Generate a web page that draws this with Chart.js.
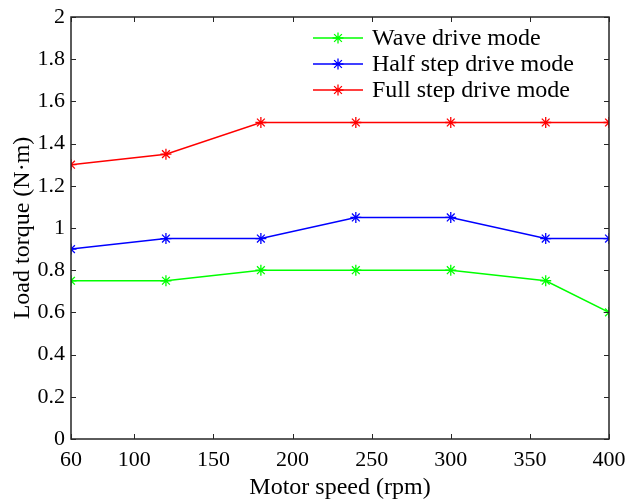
<!DOCTYPE html>
<html>
<head>
<meta charset="utf-8">
<script src="https://cdn.jsdelivr.net/npm/chart.js@4"></script>
<style>
html,body{margin:0;padding:0;background:#fff;}
#wrap{width:627px;height:502px;}
</style>
</head>
<body>
<div id="wrap"><canvas id="c" width="627" height="502"></canvas></div>
<script>
const speeds = [60, 120, 180, 240, 300, 360, 400];
const waveDrive = [0.75, 0.75, 0.8, 0.8, 0.8, 0.75, 0.6];
const halfStep = [0.9, 0.95, 0.95, 1.05, 1.05, 0.95, 0.95];
const fullStep = [1.3, 1.35, 1.5, 1.5, 1.5, 1.5, 1.5];
const xTicks = [60, 100, 150, 200, 250, 300, 350, 400];
const yTicks = [0, 0.2, 0.4, 0.6, 0.8, 1, 1.2, 1.4, 1.6, 1.8, 2];
const seriesLabels = ['Wave drive mode', 'Half step drive mode', 'Full step drive mode'];
const seriesColors = ['#00ff00', '#0000ff', '#ff0000'];

const FONT = '"Liberation Serif", "Times New Roman", serif';

function mk(vals, i) {
  return {
    label: seriesLabels[i],
    data: speeds.map((x, k) => ({x: x, y: vals[k]})),
    borderColor: seriesColors[i],
    backgroundColor: seriesColors[i],
    borderWidth: 1.5,
    pointStyle: 'star',
    pointRadius: 5.5,
    pointBorderWidth: 1.3,
    pointHoverRadius: 5.5,
    tension: 0
  };
}

const framePlugin = {
  id: 'frame',
  afterDraw(chart) {
    const ctx = chart.ctx;
    const a = chart.chartArea;
    const xs = chart.scales.x, ys = chart.scales.y;
    ctx.save();
    ctx.strokeStyle = '#262626';
    ctx.lineWidth = 1.5;
    ctx.strokeRect(a.left, a.top, a.right - a.left, a.bottom - a.top);
    ctx.lineWidth = 1;
    const tl = 5;
    ctx.beginPath();
    xTicks.forEach(v => {
      const p = Math.round(xs.getPixelForValue(v)) + 0.5;
      ctx.moveTo(p, a.bottom); ctx.lineTo(p, a.bottom - tl);
      ctx.moveTo(p, a.top); ctx.lineTo(p, a.top + tl);
    });
    yTicks.forEach(v => {
      const p = Math.round(ys.getPixelForValue(v)) + 0.5;
      ctx.moveTo(a.left, p); ctx.lineTo(a.left + tl, p);
      ctx.moveTo(a.right, p); ctx.lineTo(a.right - tl, p);
    });
    ctx.stroke();
    // legend
    ctx.font = '24px ' + FONT;
    ctx.textBaseline = 'middle';
    ctx.textAlign = 'left';
    const rows = [38, 64, 90];
    chart.data.datasets.forEach((ds, i) => {
      const y = rows[i];
      ctx.strokeStyle = ds.borderColor;
      ctx.lineWidth = 1.5;
      ctx.beginPath();
      ctx.moveTo(313, y); ctx.lineTo(363, y);
      ctx.stroke();
      const r = 5.5;
      ctx.lineWidth = 1.3;
      ctx.beginPath();
      for (let k = 0; k < 4; k++) {
        const ang = k * Math.PI / 4;
        ctx.moveTo(338 + r * Math.cos(ang), y + r * Math.sin(ang));
        ctx.lineTo(338 - r * Math.cos(ang), y - r * Math.sin(ang));
      }
      ctx.stroke();
      ctx.fillStyle = '#000';
      ctx.fillText(ds.label, 372, y + 1);
    });
    ctx.restore();
  }
};

new Chart(document.getElementById('c'), {
  type: 'line',
  data: { datasets: [mk(waveDrive, 0), mk(halfStep, 1), mk(fullStep, 2)] },
  options: {
    responsive: false,
    animation: false,
    devicePixelRatio: 1,
    layout: { padding: { top: 17, right: 18, left: 0, bottom: 0 } },
    plugins: { legend: { display: false }, tooltip: { enabled: false } },
    scales: {
      x: {
        type: 'linear', min: 60, max: 400,
        afterBuildTicks(s) { s.ticks = xTicks.map(v => ({value: v})); },
        afterFit(s) { s.height = 63; s.paddingLeft = 0; s.paddingRight = 0; },
        grid: { display: false, drawTicks: false },
        border: { display: false },
        ticks: { color: '#000', padding: 8, font: { family: FONT, size: 22 }, maxRotation: 0, autoSkip: false },
        title: { display: true, text: 'Motor speed (rpm)', color: '#000', font: { family: FONT, size: 24 }, padding: { top: 0, bottom: 0 } }
      },
      y: {
        type: 'linear', min: 0, max: 2,
        afterBuildTicks(s) { s.ticks = yTicks.map(v => ({value: v})); },
        afterFit(s) { s.width = 71; s.paddingTop = 0; s.paddingBottom = 0; },
        grid: { display: false, drawTicks: false },
        border: { display: false },
        ticks: { color: '#000', padding: 6, font: { family: FONT, size: 22 }, autoSkip: false,
                 callback: v => String(Math.round(v * 10) / 10) },
        title: { display: true, text: 'Load torque (N·m)', color: '#000', font: { family: FONT, size: 24 }, padding: { top: 8, bottom: 4 } }
      }
    }
  },
  plugins: [framePlugin]
});
</script>
</body>
</html>
